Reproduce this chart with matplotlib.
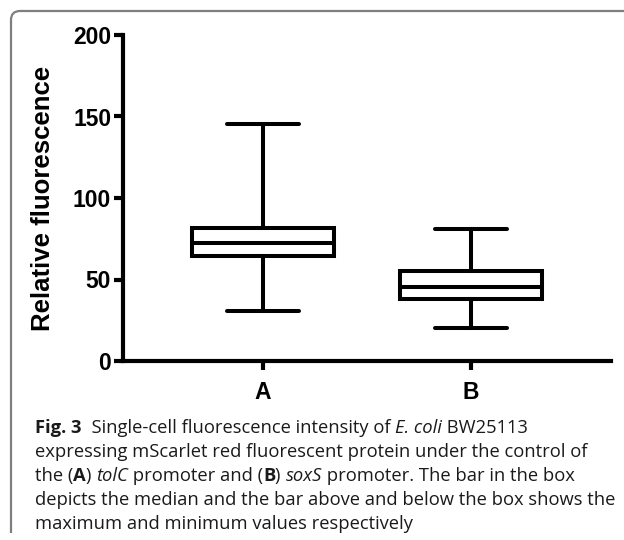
"""Box plot of single-cell fluorescence (tolC vs soxS promoter) with caption."""

import matplotlib
matplotlib.use("Agg")
import matplotlib.pyplot as plt
from matplotlib.path import Path
from matplotlib.patches import PathPatch

# data
groups = ["A", "B"]
whisker_low = [30.7, 20.2]
q1 = [64.4, 38.0]
median = [72.4, 45.4]
q3 = [81.6, 55.2]
whisker_high = [145.4, 81.0]
yticks = [0, 50, 100, 150, 200]

# caption: (text, weight, style) runs per line
caption_lines = [
    [("Fig. 3", "bold", "normal"), ("  Single-cell fluorescence intensity of ", "normal", "normal"),
     ("E. coli", "normal", "italic"), (" BW25113", "normal", "normal")],
    [("expressing mScarlet red fluorescent protein under the control of", "normal", "normal")],
    [("the (", "normal", "normal"), ("A", "bold", "normal"), (") ", "normal", "normal"),
     ("tolC", "normal", "italic"), (" promoter and (", "normal", "normal"), ("B", "bold", "normal"),
     (") ", "normal", "normal"), ("soxS", "normal", "italic"),
     (" promoter. The bar in the box", "normal", "normal")],
    [("depicts the median and the bar above and below the box shows the", "normal", "normal")],
    [("maximum and minimum values respectively", "normal", "normal")],
]

W, H = 624, 540
fig = plt.figure(figsize=(W / 100, H / 100), dpi=100)

# frame with rounded top-left corner
x0, y0, r = 11 / W, 1 - 11 / H, 9
verts = [
    (x0, 1 - 533 / H),
    (x0, 1 - (11 + r) / H),
    (x0, y0),
    ((11 + r) / W, y0),
    (1.01, y0),
]
codes = [Path.MOVETO, Path.LINETO, Path.CURVE3, Path.CURVE3, Path.LINETO]
fig.patches.append(PathPatch(Path(verts, codes), transform=fig.transFigure,
                             fill=False, edgecolor="#7f7f7f", lw=1.6))

ax = fig.add_axes([123 / W, 1 - 361 / H, (611 - 123) / W, (361 - 35) / H])

stats = [
    dict(whislo=lo, q1=a, med=m, q3=b, whishi=hi, label=g)
    for g, lo, a, m, b, hi in zip(groups, whisker_low, q1, median, q3, whisker_high)
]
lw = 2.9
ax.bxp(stats, positions=[1, 2], widths=0.683, capwidths=0.346, showfliers=False,
       patch_artist=True,
       boxprops=dict(facecolor="white", edgecolor="black", linewidth=lw),
       medianprops=dict(color="black", linewidth=lw),
       whiskerprops=dict(color="black", linewidth=lw),
       capprops=dict(color="black", linewidth=lw, solid_capstyle="round"))

ax.set_xlim(1 - 140 / 208, 2 + 140 / 208)
ax.set_ylim(0, 200)
ax.set_yticks(yticks)
ax.set_xticks([1, 2], groups)

for side in ("top", "right"):
    ax.spines[side].set_visible(False)
for side in ("left", "bottom"):
    ax.spines[side].set_linewidth(3.0)
    ax.spines[side].set_capstyle("projecting")
ax.tick_params(axis="both", length=6.5, width=3.0, color="black")
ax.tick_params(axis="y", pad=2)
ax.tick_params(axis="x", pad=8)
for lab in ax.get_xticklabels() + ax.get_yticklabels():
    lab.set_fontfamily("Liberation Sans")
    lab.set_fontweight("bold")
    lab.set_fontsize(16.5)

fig.text(43 / W, 1 - 198 / H, "Relative fluorescence", rotation=90,
         ha="center", va="center", fontsize=18.5, fontweight="bold",
         family="Liberation Sans")

# caption, laid out run by run
renderer = fig.canvas.get_renderer()
cap_size = 13.2


def run_width(s, weight, style):
    kw = dict(fontsize=cap_size, family="Open Sans", fontweight=weight, fontstyle=style)
    t1 = fig.text(0, 0, s + "|", **kw)
    t2 = fig.text(0, 0, "|", **kw)
    w = t1.get_window_extent(renderer).width - t2.get_window_extent(renderer).width
    t1.remove()
    t2.remove()
    return w


for i, runs in enumerate(caption_lines):
    x = 35.0
    y = 1 - (428 + 24 * i) / H
    for s, weight, style in runs:
        fig.text(x / W, y, s, ha="left", va="center", fontsize=cap_size,
                 family="Open Sans", fontweight=weight, fontstyle=style, color="#1a1a1a")
        x += run_width(s, weight, style)

fig.savefig("out.png", dpi=100)
